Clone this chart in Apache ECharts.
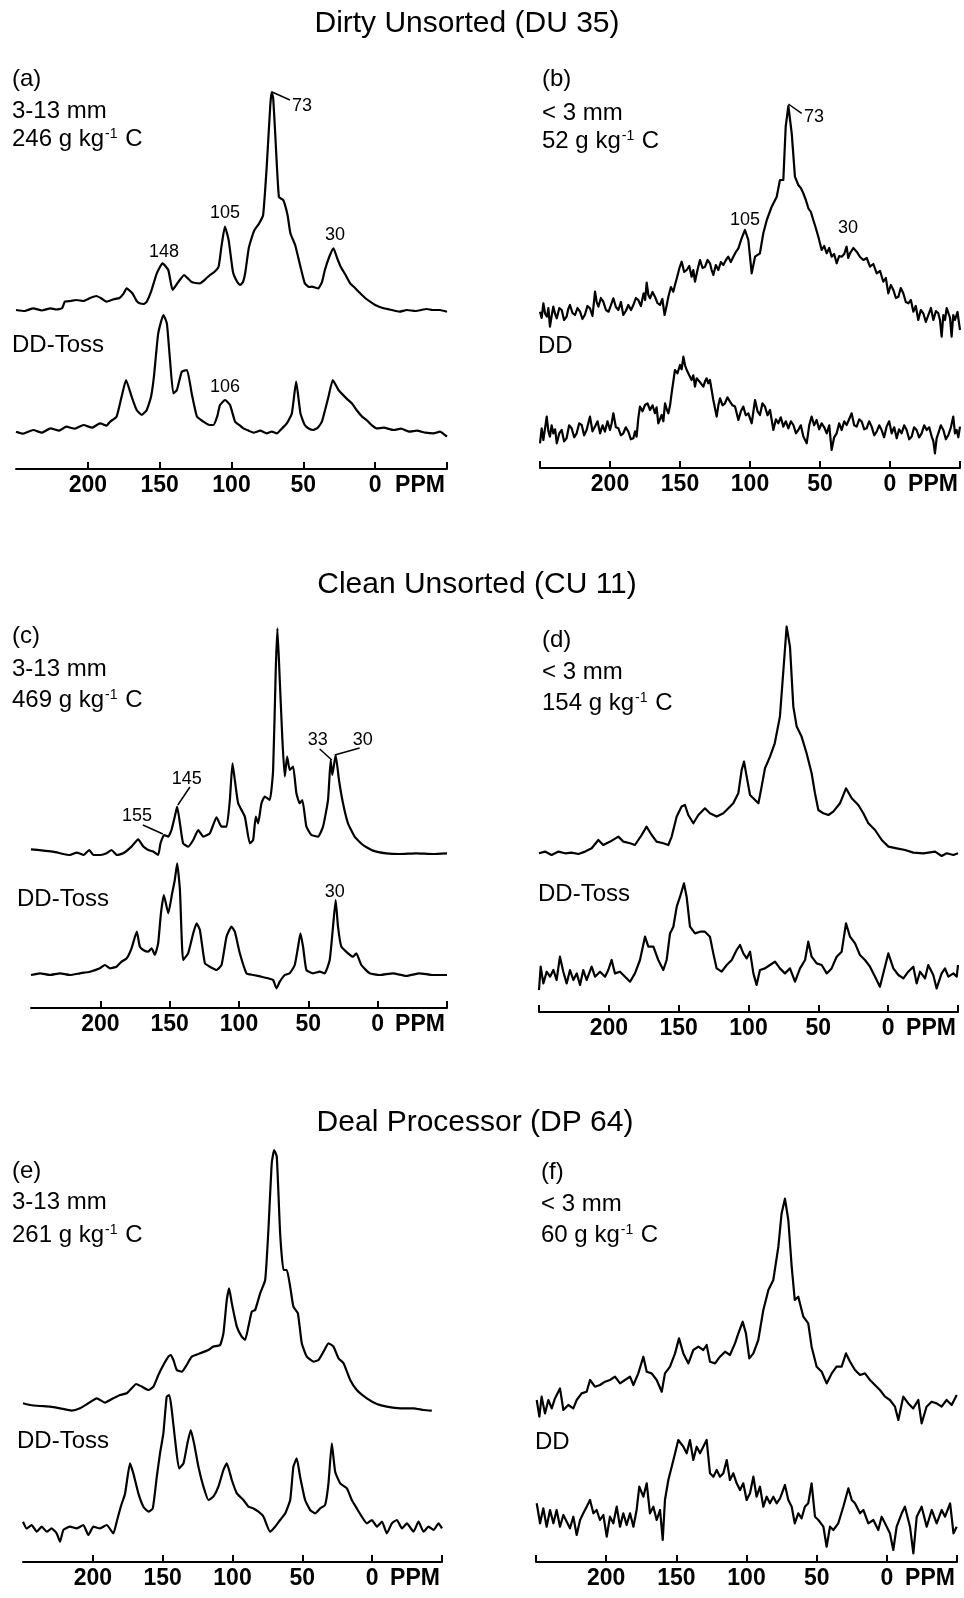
<!DOCTYPE html>
<html><head><meta charset="utf-8">
<script src="https://cdn.jsdelivr.net/npm/echarts@6/dist/echarts.min.js"></script>
<style>html,body{margin:0;padding:0;background:#fff}#chart{width:964px;height:1598px}</style>
</head><body><div id="chart"></div>
<script>
// ---------- DATA: [chemical shift (ppm), relative intensity] ----------
const tickLabels = [200, 150, 100, 50, 0, -50];

const aUpper = [[250,0],[244,-1],[238,1.7],[232,-0.5],[226,1.7],[222,0.5],[218,1.7],[216,8.3],[212,9],[208,10],[203,9],[198,12.3],[194,14],[190,11],[187,8.3],[182,10.7],[178,12],[175,16.7],[173,21.7],[169,16.7],[166,9],[164,6.7],[161,6],[159,8.3],[156,18.3],[152,36.7],[148,46.7],[144,40],[141,20],[138,26],[136,30],[133,35],[130,31],[128,28.3],[125,27],[122,26.7],[118,31],[115,35],[112,38],[109,43.3],[107,63.3],[104.6,83.3],[102,70],[99,38.3],[96,28],[94,25],[92,28],[90.5,36.7],[88,61.7],[86,72],[84,80],[81,86],[78,95],[75.5,143],[73,205],[72,218],[71,212],[69.6,177],[67,113],[64,110],[61,95],[59,76.7],[55.7,65],[52,43.3],[49,26.7],[46,23],[44,23.3],[41,22],[39.5,21.7],[37,28],[35,40],[32,53],[29,61.7],[26.5,52],[24,43.3],[21,36],[17.4,26.7],[14,22],[10.4,16.7],[7,12],[3.5,8.3],[0,5],[-5.8,1.7],[-10,0.5],[-17,-1.7],[-22,0],[-28,-1],[-36,1],[-40,0],[-45,0],[-50,-1.7]];

const aLower = [[250,0],[245,-2],[238,1.7],[232,-1],[226,3.3],[220,1],[215,5],[209,3],[203,6.7],[197,4],[191.5,8.3],[187,6],[184.5,10],[180,15],[176.5,35],[173.4,51.7],[169.5,35],[166,21.7],[162.5,16.7],[159,21.7],[156,35],[154,55],[151,98.3],[147.4,116.7],[145,108.3],[142.8,71.7],[140.5,38.3],[138,41.7],[134.6,60],[131,61.7],[127.7,38.3],[124,15],[119.5,10],[116,7],[112.6,6.7],[110,15],[108,26.7],[104.5,31.7],[101,26.7],[97.5,10],[94,6],[91.7,3.3],[88,1],[84.7,-1],[80,1],[75.5,-1.7],[72,0],[68.5,-1.7],[65,3],[61.5,8.3],[58,18.3],[55,50],[52,18.3],[49,6.7],[46,3],[43,1.7],[40,4],[37.1,10],[32.5,35],[29.5,51.7],[25.5,41.7],[20,33.3],[16,28],[13,21.7],[9,15],[6,11.7],[2,6],[-1,3.3],[-6,4],[-12.8,1.7],[-18,3],[-24,0],[-29,1],[-35,-1],[-40.6,-1.7],[-45,0],[-50,-5]];

const bUpper = [[250,8.3],[248.8,2],[247.6,16.7],[246.3,6],[245,3.3],[244,12],[242.9,-6.7],[241.7,4],[240.5,13.3],[239.2,6],[238,1.7],[236.2,12],[234.5,10],[232.8,0],[231,3.3],[229.8,11],[228.6,15],[226.8,7],[225,5],[223.2,12],[221.4,8.3],[219.7,1],[218,5],[216.1,14],[214.3,11.7],[212.5,4],[210.7,28.3],[209.5,18],[208.3,13.3],[206.5,22],[204.8,18.3],[202.9,10],[201,8.3],[199.3,15],[197.6,21.7],[195.8,13],[194,10],[192.2,18],[190.5,5],[188.7,9],[186.9,15],[185,10],[183.3,15],[181.5,22],[179.8,20],[177.9,14],[176,26.7],[174.9,20],[173.8,37.3],[172.6,25],[171.4,21.7],[169.6,28],[167.9,23.3],[166.1,17],[164.3,15],[162.6,21],[161,5],[159.6,14],[158.3,23.3],[156.5,33],[154.8,28.3],[153.4,36],[152,43.3],[150.4,52],[148.8,58.3],[147,48],[145.2,50],[143.4,54],[141.7,43.3],[140.5,50],[139.3,38.3],[137.5,50],[135.7,60],[133.9,52],[132.1,53.3],[130.3,60],[128.6,56.7],[127.4,50],[126.2,45],[124.4,55],[122.6,50],[120.8,58],[119,55],[117.2,60],[115.5,63.3],[113.7,58],[111.9,63.3],[110.1,68],[108.3,71.7],[106,81.7],[103.6,90],[101.2,80],[98.8,46.7],[96.4,63.3],[92.9,66.7],[90.5,86.7],[88,100],[84.5,113.3],[80.9,123.3],[78.6,140],[76.2,140],[74.5,193.3],[72.6,214],[70.2,186.7],[67.9,143.3],[65.5,135],[63.7,132],[61.9,126.7],[60.1,120],[58.3,111.7],[56.5,108],[54.8,100],[53,92],[51.2,83.3],[48.8,70],[47,74],[45.2,66.7],[43.4,72],[41.7,63.3],[39.9,66],[38.1,56.7],[36.3,64],[34.5,63.3],[32.7,66],[31,73.3],[29.8,62],[28.6,66.7],[26.2,72],[23.8,68.3],[21.4,63],[19,60],[16.6,62],[14.3,53.3],[11.9,56],[9.5,46.7],[7.1,49],[4.8,38.3],[3,42],[1.2,26.7],[-0.6,35],[-2.4,30],[-4.2,22],[-6,23.3],[-7.7,32],[-9.5,26.7],[-11.3,18],[-13.1,16.7],[-14.9,20],[-16.7,8.3],[-18.4,14],[-20.2,0],[-22,10],[-23.8,6.7],[-25.6,-2],[-27.4,5],[-29.2,12],[-31,0],[-32.8,9],[-34.5,6.7],[-35.7,0],[-36.9,-16.7],[-38.1,5],[-39.3,0],[-40.5,12],[-41.7,10],[-42.9,2],[-44,-16.7],[-45.2,5],[-46.4,0],[-48.2,8],[-50,-10]];

const bLower = [[250,-10],[248.8,5],[247.6,-6.7],[246.4,5],[245.2,16.7],[244,2],[242.9,-3.3],[241.7,8],[240.5,0],[239.2,4],[238,-10],[236.2,0],[234.5,3.3],[232.8,-8],[231,-5],[229.2,8],[227.4,5],[225.6,-4],[223.8,0],[222,10],[220.2,8.3],[218.5,-2],[216.7,3.3],[215.5,10],[214.3,16.7],[212.5,2],[210.7,6.7],[208.9,12],[207.1,0],[205.3,8],[203.6,1.7],[201.8,12],[200,3.3],[198.8,10],[197.6,20],[195.8,6],[194,5],[192.2,-2],[190.5,0],[188.7,6],[186.9,1.7],[185.1,-6],[183.3,-5],[182.1,2],[181,-3.3],[179.8,15],[178.6,26.7],[176.8,22],[175,28.3],[173.2,30],[171.4,23.3],[169.6,28],[167.9,20],[166.7,26],[165.5,10],[164.3,14],[163.1,18.3],[161.9,12],[160.7,30],[159.5,24],[158.3,20],[157.1,28],[156,40],[153.6,63.3],[151.8,60],[150,68.3],[148.8,64],[147.6,76.7],[146.4,68],[145.2,63.3],[143.4,58],[141.7,53.3],[140.5,58],[139.3,46.7],[138.1,55],[136.9,53.3],[135.1,50],[133.3,46.7],[132.1,52],[131,55],[129.8,50],[128.6,53.3],[126.2,33.3],[123.8,16.7],[122.6,28],[121.4,35],[119.6,28],[117.9,30],[116.1,36],[114.3,31.7],[112.5,28],[110.7,26.7],[108.3,13.3],[106.5,22],[104.8,26.7],[103,18],[101.2,20],[98.8,10],[96.4,33.3],[94.6,22],[92.9,18.3],[91.1,30],[89.3,26.7],[87.5,18],[85.7,23.3],[83.3,3.3],[81.5,14],[79.8,10],[78,16],[76.2,6.7],[74.4,12],[72.6,5],[70.8,12],[69,8.3],[67.2,0],[65.5,3.3],[63.7,8],[61.9,-3.3],[59.5,-10],[57.7,8],[56,16.7],[54.2,8],[52.4,13.3],[50.6,4],[48.8,10],[47,6],[45.2,0],[43.4,8],[41.7,-16.7],[39.9,-4],[38.1,0],[36.3,10],[34.5,3.3],[32.7,12],[31,8.3],[29.2,14],[27.4,20],[25.6,8],[23.8,6.7],[22,14],[20.2,11.7],[18.4,4],[16.7,5],[14.9,12],[13.1,6.7],[11.3,-2],[9.5,1.7],[7.7,8],[6,3.3],[4.2,-4],[2.4,6.7],[0.6,12],[-1.2,0],[-3,6],[-4.8,-5],[-6.5,4],[-8.3,0],[-10.1,8],[-11.9,3.3],[-13.7,-6],[-15.5,-3.3],[-17.2,6],[-19,3.3],[-20.8,-4],[-22.6,0],[-24.4,8],[-26.2,3.3],[-28,6],[-29.8,-3.3],[-31,-8],[-32.1,-20],[-33.3,-5],[-34.5,0],[-36.3,8],[-38.1,3.3],[-39.9,-6],[-41.7,-1.7],[-43.5,6],[-45.2,16.7],[-46.4,0],[-47.6,3.3],[-48.8,-4],[-50,6.7]];

const cUpper = [[250,4],[241,2.7],[234,1.7],[226.7,-0.7],[222,-1.7],[217,0.7],[212,-1.7],[208,3.3],[205,-1.7],[200,-1.7],[195.5,0],[191.9,3.3],[188,-1.7],[183.5,0],[177.5,6.7],[172.7,14],[169,6.7],[165.5,3.3],[161.9,1.7],[158.3,-1.7],[156.6,10],[154,18.3],[151,16.7],[148.7,23.3],[146.3,36.7],[144.6,46.7],[142.6,30],[140.3,10],[136.6,6.7],[133,13.3],[129.4,23.3],[125.8,16.7],[121,20],[116.2,36],[112.6,26.7],[109,26.7],[106.6,53.3],[104.7,90],[103,73.3],[100.6,50],[95.8,36.7],[92.2,10],[89.8,13.3],[87.9,36.7],[86.2,30],[83.8,50],[81.4,56.7],[77.8,53.3],[75.4,83.3],[73.5,183.3],[72.3,225],[70.6,173.3],[68.7,113.3],[67,76.7],[65.3,96.7],[63.4,83.3],[61,86.7],[58.6,60],[56.2,50],[54.3,53.3],[51.4,26.7],[47.8,18.3],[43,16.7],[39.4,26.7],[35.8,53.3],[33.9,93.3],[32.7,78.3],[30.3,98.3],[27.9,73.3],[25,50],[21.4,30],[16.6,16.7],[10.6,8.3],[3.4,2.7],[-6.2,0],[-15.8,-0.7],[-27.8,0],[-39.8,-0.7],[-50,0]];

const cLower = [[250,0],[243.5,1.7],[236.3,0],[229,1.7],[222,0],[214.7,1.7],[207.5,3.3],[200.3,6.7],[196.7,10],[193,6.7],[188.3,8.3],[184.7,13.3],[181,16.7],[177.5,26.7],[173.7,43.3],[171.5,28.3],[169,25],[165.5,23.3],[163,26.7],[160.7,20],[158.3,31.7],[156.3,61.7],[154.2,80],[151,61.7],[148.2,81.7],[146.3,95],[144.6,111.7],[142.6,85],[140.3,15],[136.7,21.7],[133,41.7],[130.6,51.7],[128.2,45],[124.6,11.7],[121,8.3],[116.2,5],[112.6,10],[109,38.3],[105.4,48.3],[103,43.3],[99.4,21.7],[94.6,1.7],[89.8,0],[83.8,-1.7],[79,-3.3],[75.4,-5],[73,-13.3],[70.6,-6.7],[67,0],[63.4,1.7],[59.8,10],[57.4,28.3],[55.7,41.7],[53.8,28.3],[51.4,5],[46.6,1.7],[41.8,3.3],[38.2,1.7],[34.6,15],[32.2,48.3],[30.3,75],[28.6,48.3],[26.2,28.3],[21.4,21.7],[17.8,18.3],[15.4,21.7],[11.8,10],[5.8,1.7],[-1.4,0],[-11,1.7],[-20.6,-1],[-30.2,1.7],[-39.8,0],[-50,0]];

const dUpper = [[250,0],[245.7,1.7],[241,-1.7],[236,1.7],[231.4,0],[226.6,0.7],[221.8,-0.7],[217,1.7],[212.3,5],[207.5,13.3],[204,8.3],[199,11.7],[193.2,16.7],[189.6,11.7],[184.8,10],[181.3,8.3],[176.5,18.3],[173,26.7],[169.3,18.3],[165.8,11.7],[161,10],[157.4,8.3],[155,16.7],[151.4,36.7],[147.9,46.7],[145.5,48.3],[143.1,38.3],[139.5,30],[135.9,38.3],[131.2,45],[127.6,40],[122.8,36.7],[118,40],[114.4,45],[110.9,50],[107.3,60],[104.9,83.3],[103.2,91.7],[101.3,76.7],[98.9,58.3],[95.3,53.3],[92.9,50],[90.6,66.7],[88.2,85],[84.6,96.7],[81.2,110],[77.5,136.7],[75,183.3],[72.7,226.7],[70.3,206.7],[67.9,146.7],[65.5,126.7],[62,116.7],[58.4,100],[54.8,80],[52.4,60],[50,43.3],[46.4,40],[42.8,38.3],[39.3,41.7],[34.5,50],[30.2,65],[26.1,55],[21.4,48.3],[17.8,40],[14.2,30],[9.4,23.3],[4.6,13.3],[-0.2,6.7],[-6.1,5],[-12.1,3.3],[-18,0.7],[-25.2,0],[-33.6,1.7],[-38.3,-2.7],[-41.9,0],[-46.7,-1.7],[-50,0]];

const dLower = [[250,-13.3],[248.8,10],[246.9,-6.7],[244.5,5],[242.1,0],[239.7,6.7],[237.4,-3.3],[235,20],[232.6,5],[230.2,-6.7],[227.8,6.7],[225.4,-3.3],[223,3.3],[220.6,-8.3],[218.3,6.7],[215.9,-3.3],[212.3,10],[209.9,0],[206.3,5],[202.7,0],[200.4,6.7],[198,16.7],[195.6,3.3],[192,5],[188.4,0],[184.8,-5],[181.3,3.3],[177.7,16.7],[174.1,40],[171.7,30],[168.1,30],[164.6,16.7],[161,6.7],[158.6,16.7],[156.2,43.3],[153.8,50],[151.4,70],[149,80],[146.2,93.3],[144.3,80],[141.9,50],[138.3,43.3],[134.7,45],[131.2,45],[127.6,40],[125.2,23.3],[122.8,8.3],[119.2,5],[115.6,11.7],[112,16.7],[108.5,26.7],[106.1,31.7],[103.7,23.3],[101.3,18.3],[98.9,25],[96.5,3.3],[94.2,-8.3],[91.8,6.7],[88.2,8.3],[84.6,11.7],[81,15],[77.5,8.3],[73.9,3.3],[70.3,8.3],[66.7,-5],[63.1,8.3],[59.5,16.7],[57.2,35],[54.8,20],[51.2,13.3],[47.6,11.7],[44,3.3],[40.5,8.3],[36.9,20],[33.3,25],[30.2,53.3],[27.3,40],[23.7,33.3],[20.2,21.7],[16.6,16.7],[13,10],[9.4,0],[5.9,-10],[2.3,10],[-0.1,23.3],[-3.7,8.3],[-7.3,1.7],[-10.9,-1.7],[-14.4,5],[-18,10],[-20.4,-6.7],[-22.8,5],[-26.4,-1.7],[-28.7,11.7],[-32.3,1.7],[-34.7,-11.7],[-38.3,3.3],[-40.7,8.3],[-43.1,0],[-46.7,3.3],[-49.1,0],[-50,11.7]];

const eUpper = [[250,5],[245,3.3],[237.8,2.3],[230.7,1.7],[223.5,0],[215.1,-2.3],[209.2,0],[203.2,5],[197.2,10],[191.3,5.7],[185.3,10],[180.5,13.3],[175.7,15],[172.2,20],[169,24.3],[165,21.7],[160.2,18.3],[156.6,21.7],[153.1,33.3],[149.5,43.3],[145.9,51.7],[144.2,53.3],[142.3,48.3],[139.9,38.3],[136.3,36.7],[132.8,43.3],[129.2,51.7],[123.2,55],[117.2,58.3],[113.7,61.7],[108.9,63.3],[106.5,75],[104.1,108.3],[102.4,120],[100.5,105],[96.9,81.7],[93.4,71.7],[91,68.3],[88.6,81.7],[86.2,96.7],[83.8,98.3],[80.2,115],[76.6,128.3],[74.3,178.3],[71.9,245],[70.2,258.3],[68.3,251.7],[65.9,175],[63.5,138.3],[61.1,138.3],[58.7,121.7],[56.4,101.7],[53.2,95],[50.4,65],[46.8,51.7],[42,46.7],[38.4,48.3],[34.8,56.7],[31.3,65],[27.7,61.7],[24.1,50],[20.5,45],[15.7,28.3],[11,18.3],[3.8,10],[-3.4,4.3],[-10.5,1.7],[-20.1,0],[-29.6,0],[-36.8,-1.7],[-42.7,-2.3]];

const eLower = [[250,5],[247.4,-1.7],[243.8,1.7],[240.2,-5],[236.6,0],[233,-5],[229.5,-1.7],[225.9,-6.7],[223.5,-15],[221.1,-3.3],[216.3,0],[211.6,-1.7],[206.8,1.7],[203.2,-8.3],[199.6,0],[194.8,-1.7],[190.1,1.7],[185.3,-6.7],[182.9,5],[180,20],[176.9,33.3],[173.4,63.3],[171,53.3],[167.4,33.3],[163.8,20],[160.2,15],[157.1,18.3],[154.2,50],[151.9,73.3],[149.5,93.3],[147.1,130],[145.2,131.7],[143.5,116.7],[141.1,86.7],[138.3,58.3],[135.1,63.3],[132.3,83.3],[129.9,96.7],[127.5,83.3],[124.4,60],[120.8,40],[117.2,26.7],[113.7,30],[110.1,40],[106.5,56.7],[104.1,63.3],[100.5,46.7],[96.9,33.3],[92.2,26.7],[88.6,20],[85,18.3],[81.4,15],[77.8,10],[73.1,-5],[69.5,0],[65.9,6.7],[62.3,13.3],[58.7,26.7],[56.4,60],[54,68.3],[51.6,50],[48,26.7],[44.4,16.7],[40.8,13.3],[37.2,18.3],[33.7,21.7],[31.3,43.3],[28.9,83.3],[26.5,55],[22.9,43.3],[18.1,38.3],[14.6,26.7],[11,18.3],[7.4,10],[3.8,3.3],[0.2,6.7],[-3.4,0],[-7,5],[-10.5,-6.7],[-14.1,3.3],[-17.7,6.7],[-21.3,-1.7],[-24.9,3.3],[-29.6,-5],[-33.2,5],[-36.8,-5],[-40.4,0],[-44,-3.3],[-47.5,3.3],[-50,-1.7]];

const fUpper = [[249.5,6.7],[247.6,-10],[246,10],[243.6,-6.7],[241.2,6.7],[238.8,-1.7],[236.5,8.3],[232.9,18.3],[230.5,-3.3],[227,1.7],[223.4,-1.7],[221,6.7],[217.5,13.3],[213.9,15],[211.5,26.7],[208,20],[204.4,21.7],[200.8,25],[197.3,26.7],[193.7,30],[190.1,23.3],[186.6,26.7],[183,30],[180.6,21.7],[177.1,33.3],[173.5,50],[171.1,35],[167.6,33.3],[164,26.7],[160.4,15],[158.1,33.3],[154.5,40],[150.9,53.3],[148.1,68.3],[145,53.3],[141.4,43.3],[137.9,56.7],[134.3,60],[130.8,56.7],[128.4,61.7],[126,45],[122.4,43.3],[118.9,50],[115.3,55],[111.8,51.7],[108.2,63.3],[105.8,73.3],[102.7,85],[100.4,73.3],[98,48.3],[95.1,53.3],[91.6,66.7],[88,96.7],[84.4,116.7],[80.9,126.7],[77.3,160],[75,193.3],[72.6,208],[70.2,186.7],[67.8,140],[65.6,106.7],[63.1,110],[59.5,90],[56,83.3],[53.6,60],[50,40],[46.4,35],[42.9,23.3],[39.3,33.3],[35.8,40],[32.2,40],[29.1,53.3],[26.2,45],[22.7,36.7],[19.1,31.7],[15.6,33.3],[12,26.7],[8.5,21.7],[4.9,16.7],[1.3,10],[-2.2,6.7],[-5.8,0],[-8.2,-13.3],[-11.7,10],[-15.3,3.3],[-18.8,-1.7],[-22.4,6.7],[-24.8,-16.7],[-28.3,0],[-31.9,5],[-35.5,3.3],[-39,0],[-42.6,6.7],[-46.2,1.7],[-49.8,11.7]];

const fLower = [[249.5,16.7],[247.1,-3.3],[244.8,11.7],[242.4,-6.7],[240,10],[237.6,-3.3],[235.3,10],[232.9,-6.7],[230.5,5],[228.1,-1.7],[225.8,-8.3],[223.4,3.3],[221,-15],[218.6,0],[216.3,6.7],[213.9,13.3],[211.5,20],[209.1,6.7],[206.8,10],[204.4,0],[202,5],[199.6,-16.7],[197.3,3.3],[194.9,-3.3],[192.5,13.3],[190.1,-6.7],[187.8,6.7],[185.4,-5],[183,6.7],[180.6,-6.7],[178.3,10],[176.4,33.3],[173.5,23.3],[171.1,36.7],[168.8,6.7],[166.4,13.3],[164,0],[161.6,10],[159.7,-20],[158.1,20],[155.7,40],[153.3,53.3],[150.9,66.7],[148.6,80],[147.4,81.7],[145,73.3],[142.6,66.7],[140.3,80],[137.9,60],[135.5,73.3],[133.1,66.7],[130.8,73.3],[128.4,80],[126,46.7],[123.6,43.3],[121.2,50],[118.9,43.3],[116.5,46.7],[114.1,60],[111.8,40],[109.4,46.7],[107,36.7],[104.6,30],[102.3,36.7],[99.9,20],[97.5,26.7],[95.1,43.3],[92.8,23.3],[90.4,33.3],[88,13.3],[85.6,23.3],[83.3,16.7],[80.9,23.3],[78.5,16.7],[76.1,21.7],[72.6,35],[70.2,20],[67.8,13.3],[65.6,-3.3],[63.1,6.7],[60.7,1.7],[58.4,13.3],[56,16.7],[53.6,36.7],[51.2,3.3],[48.8,0],[45.2,-6.7],[42.9,-26.7],[40.5,-6.7],[38.1,-10],[34.6,-3.3],[31,13.3],[27.4,31.7],[25,20],[22.7,16.7],[19.1,6.7],[16.7,10],[13.2,-3.3],[9.6,0],[6.1,-10],[3.7,3.3],[1.3,-3.3],[-2.2,-13.3],[-4.6,-30],[-7,-6.7],[-10.6,6.7],[-12.9,13.3],[-16.5,-6.7],[-18.9,-33.3],[-21.3,3.3],[-24.8,13.3],[-28.4,-6.7],[-32,10],[-35.5,-3.3],[-39.1,10],[-41.5,3.3],[-45.1,16.7],[-47.5,-13.3],[-49.8,-6.7]];

// ---------- LAYOUT ----------
const FONT = '"Liberation Sans", Arial, Helvetica, sans-serif';
const INK = '#000000';
const LEFT_TICKS = [200, 150, 100, 50, 0, -50];
const RIGHT_TICKS = [250, 200, 150, 100, 50, 0, -50];

const panels = [
  { left: 16, width: 431, axisY: 469, upBase: 310, loBase: 431.7, up: aUpper, lo: aLower, ticks: LEFT_TICKS, smooth: 0.15,
    upLabels: [['73', 50.9, 204], ['105', 104.5, 97], ['148', 147, 58], ['30', 28, 75]],
    upLeaders: [[[71.8, 218], [59.3, 210]]],
    loLabels: [['106', 104.5, 44.7]], loLeaders: [] },
  { left: 540, width: 420, axisY: 468, upBase: 320, loBase: 433.3, up: bUpper, lo: bLower, ticks: RIGHT_TICKS, smooth: false,
    upLabels: [['73', 54.3, 202.5], ['105', 103.6, 100], ['30', 30, 92]],
    upLeaders: [[[72.6, 216], [63.1, 206.7]]],
    loLabels: [], loLeaders: [] },
  { left: 31, width: 416, axisY: 1008, upBase: 853.3, loBase: 975, up: cUpper, lo: cLower, ticks: LEFT_TICKS, smooth: 0.15,
    upLabels: [['155', 173.6, 37.3], ['145', 137.6, 74.3], ['33', 43.2, 113.3], ['30', 10.8, 113.3]],
    upLeaders: [[[169.3, 28.3], [154.9, 19.3]], [[135.4, 66.3], [144.1, 48.3]], [[41.8, 104.3], [33.1, 93.3]], [[13, 105.3], [31, 98.3]]],
    loLabels: [['30', 31, 83]], loLeaders: [] },
  { left: 539, width: 419, axisY: 1012, upBase: 853.3, loBase: 976.7, up: dUpper, lo: dLower, ticks: RIGHT_TICKS, smooth: false,
    upLabels: [], upLeaders: [], loLabels: [], loLeaders: [] },
  { left: 23, width: 419, axisY: 1562, upBase: 1408.3, loBase: 1526.7, up: eUpper, lo: eLower, ticks: LEFT_TICKS, smooth: 0.15,
    upLabels: [], upLeaders: [], loLabels: [], loLeaders: [] },
  { left: 536, width: 421, axisY: 1562, upBase: 1406.7, loBase: 1520, up: fUpper, lo: fLower, ticks: RIGHT_TICKS, smooth: false,
    upLabels: [], upLeaders: [], loLabels: [], loLeaders: [] }
];

const grids = [], xAxes = [], yAxes = [], series = [];
const UP_MAX = 270, UP_MIN = -40, LO_MAX = 150;
const LINE_W = 2.2;

function marks(labels, leaders) {
  return {
    markPoint: {
      symbol: 'circle', symbolSize: 0, silent: true, animation: false,
      label: { show: true, position: 'inside', formatter: '{b}', color: INK, fontFamily: FONT, fontSize: 18 },
      data: labels.map(l => ({ name: l[0], coord: [l[1], l[2]] }))
    },
    markLine: {
      symbol: ['none', 'none'], silent: true, animation: false,
      label: { show: false },
      lineStyle: { color: INK, width: 1.5, type: 'solid' },
      data: leaders.map(s => [{ coord: s[0] }, { coord: s[1] }])
    }
  };
}

panels.forEach((p, i) => {
  const loMin = p.loBase - p.axisY;
  grids.push({ left: p.left, width: p.width, top: p.upBase - UP_MAX, height: UP_MAX - UP_MIN });
  grids.push({ left: p.left, width: p.width, top: p.loBase - LO_MAX, height: LO_MAX - loMin });
  xAxes.push({ gridIndex: 2 * i, type: 'value', min: -50, max: 250, inverse: true, show: false });
  xAxes.push({
    gridIndex: 2 * i + 1, type: 'value', min: -50, max: 250, inverse: true, position: 'bottom',
    splitLine: { show: false },
    axisLine: { show: true, onZero: false, lineStyle: { color: INK, width: 2 } },
    axisTick: { show: true, inside: true, length: 7, customValues: p.ticks, lineStyle: { color: INK, width: 2 } },
    axisLabel: {
      show: true, customValues: tickLabels, margin: 5, color: INK, fontFamily: FONT, fontSize: 23, fontWeight: 'bold',
      formatter: v => (v === -50 ? '{p|PPM}' : String(v)),
      rich: { p: { padding: [0, 54, 0, 0], fontFamily: FONT, fontSize: 23, fontWeight: 'bold', color: INK } }
    }
  });
  yAxes.push({ gridIndex: 2 * i, type: 'value', min: UP_MIN, max: UP_MAX, show: false });
  yAxes.push({ gridIndex: 2 * i + 1, type: 'value', min: loMin, max: LO_MAX, show: false });
  series.push(Object.assign({
    type: 'line', xAxisIndex: 2 * i, yAxisIndex: 2 * i, data: p.up, symbol: 'none', showSymbol: false,
    smooth: p.smooth, lineStyle: { color: INK, width: LINE_W, join: 'round' }, silent: true
  }, marks(p.upLabels, p.upLeaders)));
  series.push(Object.assign({
    type: 'line', xAxisIndex: 2 * i + 1, yAxisIndex: 2 * i + 1, data: p.lo, symbol: 'none', showSymbol: false,
    smooth: p.smooth, lineStyle: { color: INK, width: LINE_W, join: 'round' }, silent: true
  }, marks(p.loLabels, p.loLeaders)));
});

// ---------- TEXT ----------
const SUP = { s: { fontSize: 14, fontFamily: FONT, fill: INK, verticalAlign: 'top', padding: [0, 1, 0, 1] } };
function T(x, y, text, size, align) {
  return { type: 'text', x: x, y: y, silent: true,
    style: { text: text, fill: INK, fontFamily: FONT, fontSize: size, align: align || 'left', verticalAlign: 'middle', rich: SUP } };
}
const texts = [
  T(467, 24, 'Dirty Unsorted (DU 35)', 30, 'center'),
  T(477, 585, 'Clean Unsorted (CU 11)', 30, 'center'),
  T(475, 1123, 'Deal Processor (DP 64)', 30, 'center'),
  T(12, 79, '(a)', 24), T(12, 111, '3-13 mm', 24), T(12, 139, '246 g kg{s|-1} C', 24),
  T(542, 79, '(b)', 24), T(542, 113, '< 3 mm', 24), T(542, 141, '52 g kg{s|-1} C', 24),
  T(12, 636, '(c)', 24), T(12, 669, '3-13 mm', 24), T(12, 700, '469 g kg{s|-1} C', 24),
  T(542, 640, '(d)', 24), T(542, 672, '< 3 mm', 24), T(542, 703, '154 g kg{s|-1} C', 24),
  T(12, 1171, '(e)', 24), T(12, 1202, '3-13 mm', 24), T(12, 1235, '261 g kg{s|-1} C', 24),
  T(541, 1172, '(f)', 24), T(541, 1204, '< 3 mm', 24), T(541, 1235, '60 g kg{s|-1} C', 24),
  T(12, 345, 'DD-Toss', 24), T(538, 346, 'DD', 24), T(17, 899, 'DD-Toss', 24),
  T(538, 894, 'DD-Toss', 24), T(17, 1441, 'DD-Toss', 24), T(535, 1442, 'DD', 24)
];

const chart = echarts.init(document.getElementById('chart'), null, { renderer: 'canvas' });
chart.setOption({
  backgroundColor: '#ffffff',
  animation: false,
  grid: grids, xAxis: xAxes, yAxis: yAxes, series: series,
  graphic: texts
});
</script></body></html>
